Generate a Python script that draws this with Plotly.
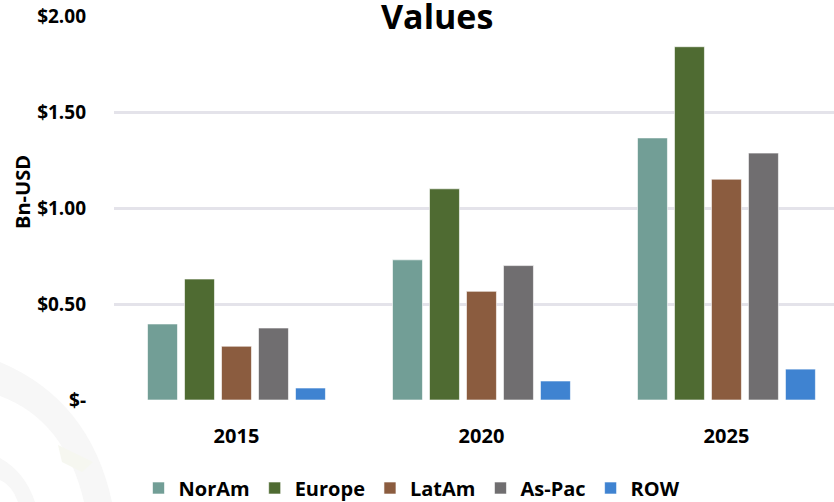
import plotly.graph_objects as go

years = ["2015", "2020", "2025"]
series_names = ["NorAm", "Europe", "LatAm", "As-Pac", "ROW"]
noram = [0.396, 0.73, 1.365]
europe = [0.63, 1.10, 1.84]
latam = [0.28, 0.566, 1.15]
aspac = [0.375, 0.70, 1.286]
row = [0.0625, 0.099, 0.161]
colors = ["#729e96", "#4f6b32", "#8b5c3f", "#706e70", "#3f83d1"]
ytick_vals = [0, 0.5, 1.0, 1.5, 2.0]
ytick_text = ["$-", "$0.50", "$1.00", "$1.50", "$2.00"]

font_family = "'Open Sans', sans-serif"

fig = go.Figure()
for name, vals, c in zip(series_names, [noram, europe, latam, aspac, row], colors):
    fig.add_trace(go.Bar(
        x=years, y=vals, name=name,
        marker=dict(color=c, line=dict(color="rgba(255,255,255,0.6)", width=1)),
    ))

W, H = 834, 502
L, R, T, B = 114, 0, 16, 102
PW, PH = W - L - R, H - T - B


def px_x(x):
    return (x - L) / PW


def px_y(y):
    return (H - B - y) / PH


fig.update_layout(
    width=W, height=H,
    margin=dict(l=L, r=R, t=T, b=B, autoexpand=False),
    paper_bgcolor="white", plot_bgcolor="rgba(0,0,0,0)",
    barmode="group", bargap=0.245, bargroupgap=0.19,
    font=dict(family=font_family, color="#000000"),
    showlegend=True,
    legend=dict(
        orientation="h", x=412 / W, xanchor="center", xref="container",
        y=(H - 488) / H, yref="container", yanchor="middle",
        font=dict(size=20, family=font_family, weight="bold"),
        itemwidth=30, tracegroupgap=0, bgcolor="rgba(0,0,0,0)",
    ),
    xaxis=dict(
        range=[-0.5, 2.439], showgrid=False, zeroline=False, showline=False,
        tickfont=dict(size=20, weight="bold"), ticklabelstandoff=22, automargin=False,
    ),
    yaxis=dict(
        range=[0, 2.0], tickvals=ytick_vals, ticktext=ytick_text,
        showgrid=True, gridcolor="#e4e3ea", gridwidth=2.5,
        zeroline=False, showline=False,
        tickfont=dict(size=19, weight="bold"), ticklabelstandoff=27, automargin=False,
    ),
    annotations=[
        dict(text="<b>Values</b>", x=px_x(437), y=1.0, xref="paper", yref="paper",
             xanchor="center", yanchor="middle", showarrow=False,
             bgcolor="white", borderpad=0,
             font=dict(size=34, family=font_family)),
        dict(text="<b>Bn-USD</b>", x=px_x(22), y=px_y(192), xref="paper", yref="paper",
             xanchor="center", yanchor="middle",
             showarrow=False, textangle=-90, font=dict(size=20, family=font_family)),
    ],
    shapes=[
        dict(type="path", xref="paper", yref="paper", layer="below",
             path=(f"M {px_x(0)},{px_y(362)} Q {px_x(90)},{px_y(400)} {px_x(112)},{px_y(502)} "
                   f"L {px_x(84)},{px_y(502)} Q {px_x(65)},{px_y(420)} {px_x(0)},{px_y(396)} Z"),
             fillcolor="#f7f7f7", line=dict(width=0)),
        dict(type="path", xref="paper", yref="paper", layer="below",
             path=(f"M {px_x(0)},{px_y(458)} Q {px_x(25)},{px_y(472)} {px_x(35)},{px_y(502)} "
                   f"L {px_x(18)},{px_y(502)} Q {px_x(12)},{px_y(485)} {px_x(0)},{px_y(480)} Z"),
             fillcolor="#f7f7f7", line=dict(width=0)),
        dict(type="path", xref="paper", yref="paper", layer="below",
             path=(f"M {px_x(58)},{px_y(445)} L {px_x(93)},{px_y(462)} "
                   f"L {px_x(82)},{px_y(472)} L {px_x(62)},{px_y(462)} Z"),
             fillcolor="#f6f7f0", line=dict(width=0)),
    ],
)

fig.write_html(
    "out.html",
    config={"displayModeBar": False},
    post_script="document.body.style.margin='0';document.body.style.overflow='hidden';",
)
